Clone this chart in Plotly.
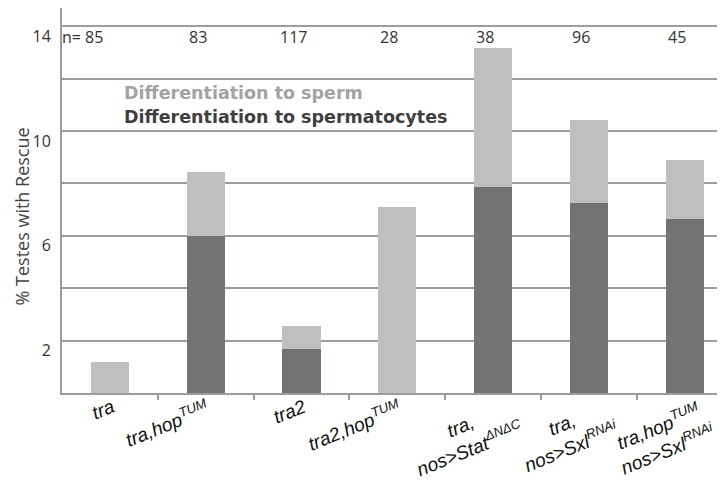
import plotly.graph_objects as go

categories = [
    "<i>tra</i>",
    "<i>tra,hop<sup>TUM</sup></i>",
    "<i>tra2</i>",
    "<i>tra2,hop<sup>TUM</sup></i>",
    "<i>tra,<br>nos&gt;Stat<sup>ΔNΔC</sup></i>",
    "<i>tra,<br>nos&gt;Sxl<sup>RNAi</sup></i>",
    "<i>tra,hop<sup>TUM</sup><br>nos&gt;Sxl<sup>RNAi</sup></i>",
]
n_values = [85, 83, 117, 28, 38, 96, 45]
spermatocytes = [0.0, 6.0, 1.68, 0.0, 7.87, 7.26, 6.64]
sperm = [1.18, 2.43, 0.88, 7.1, 5.29, 3.16, 2.25]
y_ticks = [0, 2, 4, 6, 8, 10, 12, 14]
y_ticktext = ["", "2", "", "6", "", "10", "", "14"]

x = list(range(len(categories)))
DARK = "#727473"
LIGHT = "#bfbfbf"
GRID = "#9c9c9c"

fig = go.Figure()
fig.add_trace(go.Bar(x=x, y=spermatocytes, marker=dict(color=DARK, line=dict(width=0)),
                     width=0.4, name="Differentiation to spermatocytes"))
fig.add_trace(go.Bar(x=x, y=sperm, marker=dict(color=LIGHT, line=dict(width=0)),
                     width=0.4, name="Differentiation to sperm"))

annotations = []
for i, n in enumerate(n_values):
    first = i == 0
    annotations.append(dict(x=i, y=13.58, xref="x", yref="y",
                            text=f"n= {n}" if first else str(n), showarrow=False,
                            xanchor="right" if first else "center",
                            xshift=-5 if first else -8,
                            font=dict(family="Open Sans", size=16, color="#333333")))

for i, lab in enumerate(categories):
    two = "<br>" in lab
    annotations.append(dict(x=i, y=0, xref="x", yref="paper", text=lab, showarrow=False,
                            xanchor="right", yanchor="top", yshift=0,
                            xshift=36 if two else 10, textangle=-22, align="center",
                            font=dict(family="Liberation Sans", size=19, color="#111111")))

annotations.append(dict(x=-0.5, y=1, xref="x", yref="paper", xshift=60, yshift=-85,
                        text="<b>Differentiation to sperm</b>", showarrow=False,
                        xanchor="left", yanchor="middle",
                        font=dict(family="DejaVu Sans", size=17.5, color="#a3a3a3")))
annotations.append(dict(x=-0.5, y=1, xref="x", yref="paper", xshift=60, yshift=-109,
                        text="<b>Differentiation to spermatocytes</b>", showarrow=False,
                        xanchor="left", yanchor="middle",
                        font=dict(family="DejaVu Sans", size=17.5, color="#3f3f3f")))
annotations.append(dict(x=0, y=0.5, xref="paper", yref="paper", xshift=-41, yshift=-16,
                        text="% Testes with Rescue", showarrow=False, textangle=-90,
                        xanchor="center", yanchor="middle",
                        font=dict(family="Open Sans", size=18, color="#444444")))

fig.update_layout(
    width=717, height=473,
    margin=dict(l=54, r=0, t=0, b=88),
    barmode="stack",
    showlegend=False,
    plot_bgcolor="white", paper_bgcolor="white",
    annotations=annotations,
    xaxis=dict(range=[-0.5, 6.42], tickvals=[i + 0.5 for i in range(6)],
               ticktext=[""] * 6, ticks="outside", ticklen=5, tickcolor=GRID, tickwidth=2,
               showline=True, linecolor=GRID, linewidth=2, mirror=True,
               showgrid=False, zeroline=False, automargin=False),
    yaxis=dict(range=[0, 14.69], tickvals=y_ticks, ticktext=y_ticktext,
               showgrid=True, gridcolor=GRID, gridwidth=2,
               showline=True, linecolor=GRID, linewidth=2,
               ticks="", ticklabelshift=10, ticklabelstandoff=6,
               tickfont=dict(family="Open Sans", size=16, color="#333333"),
               zeroline=False, automargin=False),
)

fig.write_html("out.html")
